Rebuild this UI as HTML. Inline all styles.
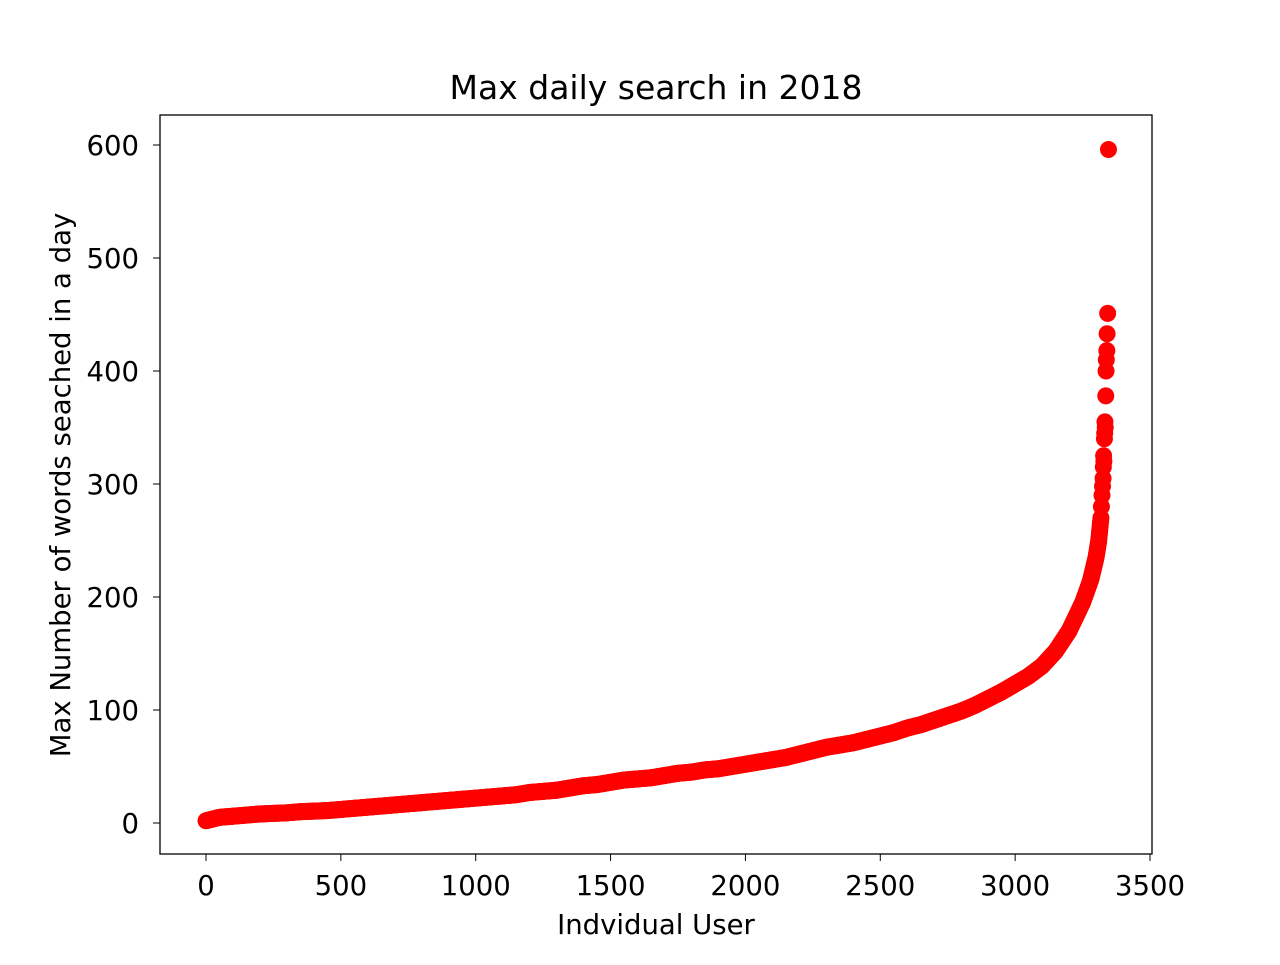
<!DOCTYPE html>
<html><head><meta charset="utf-8"><style>
body{margin:0;background:#fff;font-family:"Liberation Sans","DejaVu Sans",sans-serif}
</style></head><body>
<svg id="chart" width="1280" height="960" xmlns="http://www.w3.org/2000/svg" font-family="DejaVu Sans, Liberation Sans, sans-serif">
<rect width="1280" height="960" fill="#fff"/>
<g id="points"></g>
<rect x="160" y="115" width="992" height="739" fill="none" stroke="#000" stroke-width="1.3"/>
<g id="xticks"></g>
<g id="yticks"></g>
<text x="656" y="99" font-size="33" text-anchor="middle">Max daily search in 2018</text>
<text x="656" y="934" font-size="27.5" text-anchor="middle">Indvidual User</text>
<text transform="translate(70,485) rotate(-90)" font-size="27.5" text-anchor="middle">Max Number of words seached in a day</text>
</svg>
<script>
const users=[0,50,100,150,200,250,300,350,400,450,500,550,600,650,700,750,800,850,900,950,1000,1050,1100,1150,1200,1250,1300,1350,1400,1450,1500,1550,1600,1650,1700,1750,1800,1850,1900,1950,2000,2050,2100,2150,2200,2250,2300,2350,2400,2450,2500,2550,2600,2650,2700,2750,2800,2850,2900,2950,3000,3050,3100,3150,3200,3250,3280,3300,3310,3318,3320,3322,3324,3326,3327,3328,3329,3331,3332,3333,3334,3336,3337,3338,3340,3341,3343,3346];
const values=[2,5,6,7,8,8.5,9,10,10.5,11,12,13,14,15,16,17,18,19,20,21,22,23,24,25,27,28,29,31,33,34,36,38,39,40,42,44,45,47,48,50,52,54,56,58,61,64,67,69,71,74,77,80,84,87,91,95,99,104,110,116,123,130,139,152,170,195,215,235,250,270,280,290,298,305,315,325,320,340,345,355,350,378,400,410,418,433,451,596];
const xTicks=[0,500,1000,1500,2000,2500,3000,3500];
const yTicks=[0,100,200,300,400,500,600];
const sx=v=>206+v*(944/3500);
const sy=v=>823-v*(678/600);
const NS="http://www.w3.org/2000/svg";
const pg=document.getElementById('points');
const tailStart=users.indexOf(3318);
users.forEach((u,i)=>{
  const next=i<users.length-1?users[i+1]:u;
  const span=next-u;
  const step=span>20?4:1;
  const n=(i>=tailStart)?1:(span||1);
  for(let k=0;k<n;k+=step){
    const t=span?k/span:0;
    const v=values[i]+(i<values.length-1?(values[i+1]-values[i])*t:0);
    const c=document.createElementNS(NS,'circle');
    
    
    c.setAttribute('cx',sx(u+k));c.setAttribute('cy',sy(v));c.setAttribute('r',8.5);c.setAttribute('fill','#ff0000');
    pg.appendChild(c);
  }
});
const xg=document.getElementById('xticks');
xTicks.forEach(t=>{
  const l=document.createElementNS(NS,'line');
  
  
  l.setAttribute('x1',sx(t));l.setAttribute('x2',sx(t));l.setAttribute('y1',854);l.setAttribute('y2',861);l.setAttribute('stroke','#000');
  xg.appendChild(l);
  const tx=document.createElementNS(NS,'text');
  
  
  tx.setAttribute('x',sx(t));tx.setAttribute('y',895);tx.setAttribute('font-size','27.5');tx.setAttribute('text-anchor','middle');
  tx.textContent=t;xg.appendChild(tx);
});
const yg=document.getElementById('yticks');
yTicks.forEach(t=>{
  const l=document.createElementNS(NS,'line');
  
  
  l.setAttribute('x1',153);l.setAttribute('x2',160);l.setAttribute('y1',sy(t));l.setAttribute('y2',sy(t));l.setAttribute('stroke','#000');
  yg.appendChild(l);
  const tx=document.createElementNS(NS,'text');
  
  
  tx.setAttribute('x',139);tx.setAttribute('y',sy(t)+10);tx.setAttribute('font-size','27.5');tx.setAttribute('text-anchor','end');
  tx.textContent=t;yg.appendChild(tx);
});
</script>
</body></html>
